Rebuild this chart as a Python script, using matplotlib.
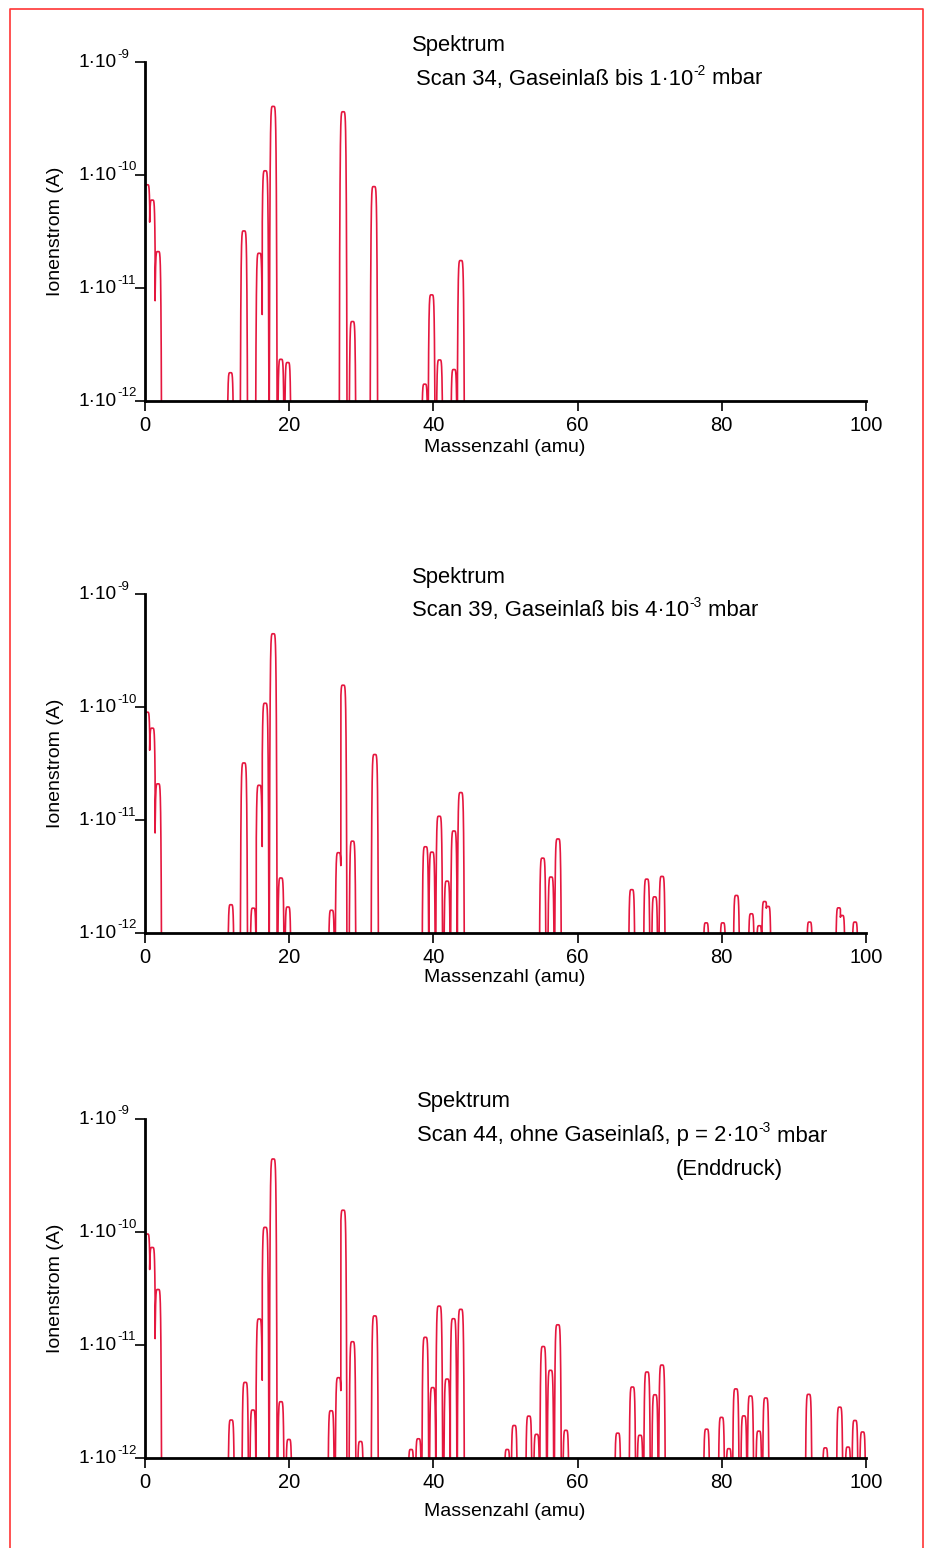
import numpy as np
import matplotlib
matplotlib.use("Agg")
import matplotlib.pyplot as plt
from matplotlib.lines import Line2D

plt.rcParams['font.family'] = ['Liberation Sans', 'DejaVu Sans']

# peak positions (amu, as displayed) and peak ion currents (A)
mass_34 = [0.3, 1.0, 1.8, 11.85, 13.72, 15.84, 16.67, 17.78, 18.85, 19.8,
           27.48, 28.78, 31.75, 38.8, 39.75, 40.85, 42.85, 43.8]
ion_34 = [8.2e-11, 6.0e-11, 2.1e-11, 1.78e-12, 3.2e-11, 2.03e-11, 1.09e-10, 4.05e-10,
          2.34e-12, 2.19e-12, 3.63e-10, 5.05e-12, 7.9e-11, 1.41e-12, 8.7e-12,
          2.31e-12, 1.9e-12, 1.75e-11]

mass_39 = [0.3, 1.0, 1.8, 11.92, 13.72, 15.01, 15.84, 16.67, 17.78, 18.85, 19.82,
           25.87, 26.84, 27.48, 28.78, 31.87, 38.9, 39.8, 40.8, 41.9, 42.85, 43.8,
           55.16, 56.31, 57.28, 67.51, 69.59, 70.69, 71.71, 77.83, 80.14, 82.03,
           84.1, 85.2, 85.94, 86.4, 92.17, 96.22, 96.68, 98.48]
ion_39 = [9.0e-11, 6.5e-11, 2.09e-11, 1.78e-12, 3.2e-11, 1.66e-12, 2.03e-11, 1.08e-10,
          4.45e-10, 3.07e-12, 1.7e-12, 1.59e-12, 5.14e-12, 1.56e-10, 6.5e-12, 3.8e-11,
          5.8e-12, 5.2e-12, 1.08e-11, 2.88e-12, 8.0e-12, 1.75e-11, 4.6e-12, 3.13e-12,
          6.8e-12, 2.42e-12, 3.0e-12, 2.09e-12, 3.17e-12, 1.23e-12, 1.23e-12, 2.15e-12,
          1.48e-12, 1.16e-12, 1.9e-12, 1.72e-12, 1.25e-12, 1.67e-12, 1.43e-12, 1.25e-12]

mass_44 = [0.3, 1.0, 1.8, 11.96, 13.9, 14.97, 15.84, 16.67, 17.78, 18.85, 19.95,
           25.82, 26.84, 27.48, 28.78, 29.88, 31.87, 36.9, 37.92, 38.88, 39.9, 40.8,
           41.9, 42.78, 43.8, 50.24, 51.21, 53.24, 54.31, 55.23, 56.24, 57.26, 58.37,
           65.57, 67.6, 68.66, 69.63, 70.73, 71.7, 77.89, 79.96, 80.98, 81.95, 83.06,
           83.98, 85.13, 86.1, 92.05, 94.36, 96.35, 97.5, 98.47, 99.53]
ion_44 = [9.6e-11, 7.3e-11, 3.1e-11, 2.17e-12, 4.67e-12, 2.66e-12, 1.7e-11, 1.1e-10,
          4.43e-10, 3.15e-12, 1.46e-12, 2.62e-12, 5.14e-12, 1.56e-10, 1.07e-11, 1.4e-12,
          1.81e-11, 1.19e-12, 1.48e-12, 1.17e-11, 4.2e-12, 2.21e-11, 5.0e-12, 1.71e-11,
          2.07e-11, 1.19e-12, 1.94e-12, 2.35e-12, 1.62e-12, 9.7e-12, 5.97e-12, 1.51e-11,
          1.76e-12, 1.66e-12, 4.25e-12, 1.59e-12, 5.77e-12, 3.63e-12, 6.65e-12, 1.8e-12,
          2.29e-12, 1.21e-12, 4.09e-12, 2.36e-12, 3.54e-12, 1.73e-12, 3.4e-12, 3.66e-12,
          1.23e-12, 2.82e-12, 1.25e-12, 2.15e-12, 1.7e-12]

# title lines: (text, superscript, rest)
titles = [("Scan 34, Gaseinlaß bis 1·10", "-2", " mbar"),
          ("Scan 39, Gaseinlaß bis 4·10", "-3", " mbar"),
          ("Scan 44, ohne Gaseinlaß, p = 2·10", "-3", " mbar")]

ytick_vals = [1e-12, 1e-11, 1e-10, 1e-9]
ytick_exps = ["-12", "-11", "-10", "-9"]
xtick_vals = [0, 20, 40, 60, 80, 100]

LINE = '#e5173f'
W, H = 926, 1548


def spectrum(masses, currents, s=0.4, reach=0.7):
    # every peak is drawn inside its own mass window, like the QMS plot
    xs, ys = [], []
    n = len(masses)
    for i in range(n):
        m, a = masses[i], currents[i]
        lo = m - reach
        hi = m + reach
        if i > 0:
            lo = max(lo, 0.5 * (masses[i - 1] + m))
        if i < n - 1:
            hi = min(hi, 0.5 * (masses[i + 1] + m))
        lo = max(lo, 0.0)
        x = np.linspace(lo, hi, 80)
        y = a * np.exp(-((x - m) / s) ** 6)
        xs.append(x)
        ys.append(np.clip(y, 1e-14, None))
    return np.concatenate(xs), np.concatenate(ys)


fig = plt.figure(figsize=(W / 100, H / 100), dpi=100)
renderer = fig.canvas.get_renderer()


def put(x_px, y_px, s, size, **kw):
    t = fig.text(x_px / W, 1 - y_px / H, s, fontsize=size, **kw)
    return t


def sup_line(x_px, y_px, base, sup, rest, size=15.8):
    # text with a small raised exponent, laid out piece by piece
    t = put(x_px, y_px, base, size, ha='left', va='center')
    x1 = t.get_window_extent(renderer).x1
    t2 = put(x1 + 0.5, y_px - 8, sup, size * 0.62, ha='left', va='center')
    x2 = t2.get_window_extent(renderer).x1
    put(x2, y_px, rest, size, ha='left', va='center')


# axes boxes in pixels: left, top, right, bottom
boxes = [(145, 62, 866, 401), (145, 594, 866, 933), (145, 1119, 866, 1458)]
scans = [(mass_34, ion_34), (mass_39, ion_39), (mass_44, ion_44)]
head_y = [(45, 79), (577, 611), (1102, 1136)]
head_x = [(412, 416), (412, 412), (417, 417)]
xlab_y = [447, 978, 1512]

for k in range(3):
    l, t, r, b = boxes[k]
    ax = fig.add_axes([l / W, 1 - b / H, (r - l) / W, (b - t) / H])
    x, y = spectrum(*scans[k])
    ax.plot(x, y, color=LINE, lw=1.2, solid_joinstyle='round')
    ax.set_yscale('log')
    ax.set_xlim(0, 100)
    ax.set_ylim(1e-12, 1e-9)
    ax.spines['top'].set_visible(False)
    ax.spines['right'].set_visible(False)
    ax.spines['left'].set_linewidth(2)
    ax.spines['bottom'].set_linewidth(2)
    ax.spines['left'].set_zorder(5)
    ax.spines['bottom'].set_zorder(5)
    ax.set_yticks(ytick_vals)
    ax.set_yticklabels([])
    ax.yaxis.set_minor_locator(matplotlib.ticker.NullLocator())
    ax.set_xticks(xtick_vals)
    ax.tick_params(axis='both', direction='out', length=7, width=1.2, labelsize=14.5, pad=4)

    # y tick labels 1·10^n
    for v, e in zip(ytick_vals, ytick_exps):
        frac = (np.log10(v) + 12) / 3
        ypx = b - frac * (b - t)
        put(117, ypx + 0.5, "1·10", 13.8, ha='right', va='center')
        put(117.5, ypx - 7.5, e, 9.5, ha='left', va='center')

    put(head_x[k][0], head_y[k][0], "Spektrum", 15.8, ha='left', va='center')
    sup_line(head_x[k][1], head_y[k][1], *titles[k])
    put(55, (t + b) / 2, "Ionenstrom (A)", 14, rotation=90, ha='center', va='center')
    put(505, xlab_y[k], "Massenzahl (amu)", 14, ha='center', va='center')

put(729, 1170, "(Enddruck)", 15.8, ha='center', va='center')

# red frame (open at the bottom)
fx = [9.5 / W, 9.5 / W, 923 / W, 923 / W]
fy = [0, 1 - 8.5 / H, 1 - 8.5 / H, 0]
fig.add_artist(Line2D(fx, fy, transform=fig.transFigure, color='#ff3535', lw=1.2))

fig.savefig("out.png", dpi=100)
